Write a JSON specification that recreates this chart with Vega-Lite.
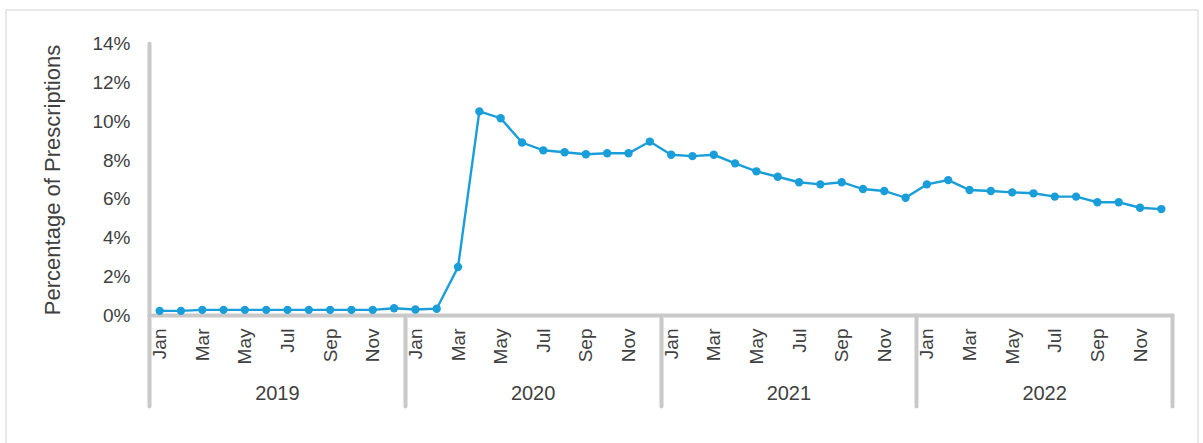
{
  "$schema": "https://vega.github.io/schema/vega-lite/v6.json",
  "width": 1192,
  "height": 440,
  "autosize": "none",
  "padding": {"left": 6, "top": 10, "right": 5, "bottom": 0},
  "background": "white",
  "config": {
    "view": {"stroke": "#e2e2e2", "strokeWidth": 1.5},
    "font": "Liberation Sans",
    "axis": {"labelFont": "Liberation Sans", "titleFont": "Liberation Sans", "labelColor": "#404040", "titleColor": "#404040", "grid": false}
  },
  "datasets": {
    "main": [
      {"period": "Jan 2019", "pct": 0.25}, {"period": "Feb 2019", "pct": 0.25}, {"period": "Mar 2019", "pct": 0.3}, {"period": "Apr 2019", "pct": 0.3},
      {"period": "May 2019", "pct": 0.3}, {"period": "Jun 2019", "pct": 0.3}, {"period": "Jul 2019", "pct": 0.3}, {"period": "Aug 2019", "pct": 0.3},
      {"period": "Sep 2019", "pct": 0.3}, {"period": "Oct 2019", "pct": 0.3}, {"period": "Nov 2019", "pct": 0.3}, {"period": "Dec 2019", "pct": 0.38},
      {"period": "Jan 2020", "pct": 0.32}, {"period": "Feb 2020", "pct": 0.36}, {"period": "Mar 2020", "pct": 2.5}, {"period": "Apr 2020", "pct": 10.5},
      {"period": "May 2020", "pct": 10.15}, {"period": "Jun 2020", "pct": 8.9}, {"period": "Jul 2020", "pct": 8.5}, {"period": "Aug 2020", "pct": 8.4},
      {"period": "Sep 2020", "pct": 8.3}, {"period": "Oct 2020", "pct": 8.35}, {"period": "Nov 2020", "pct": 8.35}, {"period": "Dec 2020", "pct": 8.95},
      {"period": "Jan 2021", "pct": 8.27}, {"period": "Feb 2021", "pct": 8.2}, {"period": "Mar 2021", "pct": 8.27}, {"period": "Apr 2021", "pct": 7.83},
      {"period": "May 2021", "pct": 7.42}, {"period": "Jun 2021", "pct": 7.14}, {"period": "Jul 2021", "pct": 6.86}, {"period": "Aug 2021", "pct": 6.75},
      {"period": "Sep 2021", "pct": 6.86}, {"period": "Oct 2021", "pct": 6.51}, {"period": "Nov 2021", "pct": 6.41}, {"period": "Dec 2021", "pct": 6.06},
      {"period": "Jan 2022", "pct": 6.75}, {"period": "Feb 2022", "pct": 6.97}, {"period": "Mar 2022", "pct": 6.46}, {"period": "Apr 2022", "pct": 6.41},
      {"period": "May 2022", "pct": 6.34}, {"period": "Jun 2022", "pct": 6.29}, {"period": "Jul 2022", "pct": 6.12}, {"period": "Aug 2022", "pct": 6.12},
      {"period": "Sep 2022", "pct": 5.83}, {"period": "Oct 2022", "pct": 5.83}, {"period": "Nov 2022", "pct": 5.55}, {"period": "Dec 2022", "pct": 5.48}
    ],
    "years": [{"year": 2019}, {"year": 2020}, {"year": 2021}, {"year": 2022}]
  },
  "layer": [
    {
      "data": {"name": "years"},
      "mark": {"type": "rule", "opacity": 0},
      "encoding": {
        "x": {
          "field": "year", "type": "quantitative",
          "scale": {"domain": [2019, 2023], "range": [143, 1166], "nice": false, "zero": false},
          "axis": {"orient": "bottom", "offset": -135, "values": [2019, 2020, 2021, 2022, 2023], "labels": false, "domain": false, "ticks": true, "tickSize": 91, "tickWidth": 4, "tickColor": "#c9c9c9", "tickCap": "round", "title": null}
        }
      }
    },
    {
      "data": {"name": "years"},
      "mark": {"type": "rule", "opacity": 0},
      "encoding": {
        "x": {
          "field": "year", "type": "quantitative",
          "scale": {"domain": [2019, 2023], "range": [143, 1166], "nice": false, "zero": false},
          "axis": {"orient": "bottom", "offset": -135, "values": [2019.5, 2020.5, 2021.5, 2022.5], "labelExpr": "'' + floor(datum.value)", "domain": false, "ticks": false, "tickSize": 0, "labelPadding": 68, "labelFontSize": 20, "labelAngle": 0, "labelFlush": false, "labelOverlap": false, "title": null}
        }
      }
    },
    {
      "data": {"name": "main"},
      "mark": {"type": "line", "color": "#1a9ed9", "strokeWidth": 2.4, "point": {"filled": true, "size": 70, "color": "#1a9ed9", "opacity": 1}},
      "encoding": {
        "x": {
          "field": "period", "type": "ordinal", "sort": null,
          "scale": {"range": [143, 1166], "padding": 0.5},
          "axis": {
            "orient": "bottom", "offset": -135,
            "values": ["Jan 2019", "Mar 2019", "May 2019", "Jul 2019", "Sep 2019", "Nov 2019", "Jan 2020", "Mar 2020", "May 2020", "Jul 2020", "Sep 2020", "Nov 2020", "Jan 2021", "Mar 2021", "May 2021", "Jul 2021", "Sep 2021", "Nov 2021", "Jan 2022", "Mar 2022", "May 2022", "Jul 2022", "Sep 2022", "Nov 2022"],
            "labelExpr": "split(datum.label, ' ')[0]",
            "labelAngle": -90, "labelFontSize": 19, "labelPadding": 13, "labelOverlap": false, "labelFlush": false,
            "ticks": false, "tickSize": 0,
            "domain": true, "domainColor": "#c9c9c9", "domainWidth": 4, "domainCap": "round",
            "title": null
          }
        },
        "y": {
          "field": "pct", "type": "quantitative",
          "scale": {"domain": [0, 14], "range": [305.7, 33.3], "nice": false, "zero": true},
          "axis": {
            "orient": "left", "offset": -143,
            "values": [0, 2, 4, 6, 8, 10, 12, 14],
            "labelExpr": "datum.value + '%'",
            "labelFontSize": 19, "labelPadding": 19,
            "ticks": false, "tickSize": 0,
            "domain": true, "domainColor": "#c9c9c9", "domainWidth": 4, "domainCap": "round",
            "title": "Percentage of Prescriptions", "titleFontSize": 22, "titleFontWeight": "normal", "titlePadding": 27
          }
        }
      }
    }
  ],
  "resolve": {"scale": {"x": "independent"}, "axis": {"x": "independent"}}
}
